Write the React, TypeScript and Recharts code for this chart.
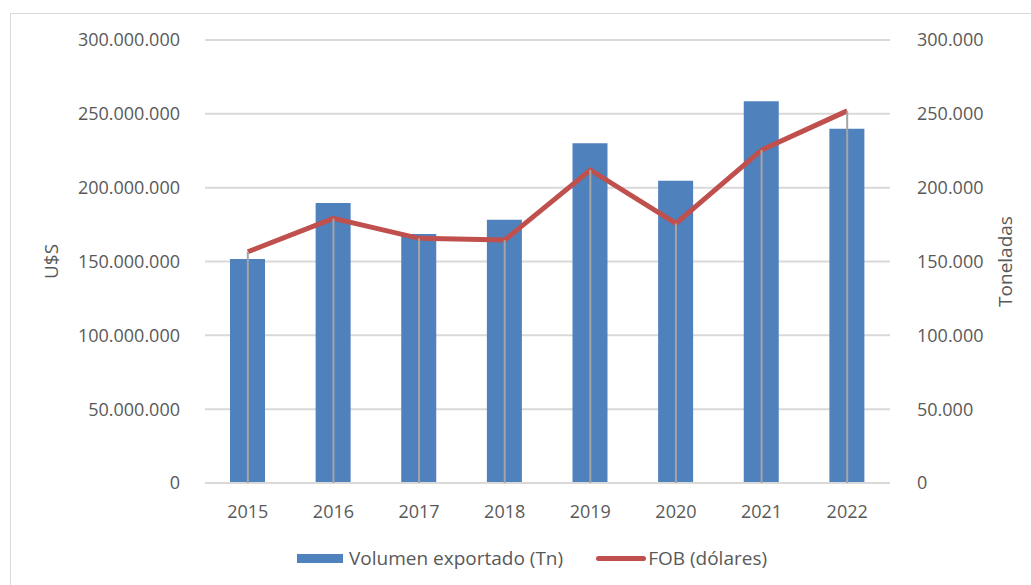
import React from "react";
import {
  ComposedChart,
  Bar,
  Line,
  XAxis,
  YAxis,
  CartesianGrid,
  Legend,
} from "recharts";

// valores
const years = ["2015", "2016", "2017", "2018", "2019", "2020", "2021", "2022"];
const volumenTn = [151700, 189600, 168700, 178300, 230000, 204700, 258600, 239900];
const fobUsd = [
  156600000, 179200000, 165700000, 164500000, 212000000, 175800000, 225500000, 252000000,
];
const leftTicks = [0, 50000000, 100000000, 150000000, 200000000, 250000000, 300000000];
const rightTicks = [0, 50000, 100000, 150000, 200000, 250000, 300000];

const BLUE = "#4f81bd";
const RED = "#c0504d";
const TEXT = "#595959";
const FONT = "'Open Sans', 'Noto Sans', sans-serif";
const PLOT_BOTTOM = 483;

const data = years.map((year, i) => ({
  year,
  volumen: volumenTn[i],
  fob: fobUsd[i],
}));

// separador de miles con punto
const fmt = (v: number) => String(v).replace(/\B(?=(\d{3})+(?!\d))/g, ".");

// línea vertical gris desde el punto hasta el eje
const DropLine = (props: any) => {
  const { cx, cy, index } = props;
  if (cx == null || cy == null) return <g key={`d-${index}`} />;
  return (
    <line
      key={`d-${index}`}
      x1={cx}
      y1={cy}
      x2={cx}
      y2={PLOT_BOTTOM}
      stroke="#a5a5a5"
      strokeWidth={2}
    />
  );
};

const renderLegend = () => (
  <div
    style={{
      display: "flex",
      alignItems: "center",
      fontFamily: FONT,
      fontSize: 19,
      color: TEXT,
      paddingLeft: 297,
    }}
  >
    <span style={{ display: "inline-block", width: 46, height: 9, background: BLUE }} />
    <span style={{ marginLeft: 6 }}>Volumen exportado (Tn)</span>
    <span
      style={{
        display: "inline-block",
        width: 50,
        height: 5,
        borderRadius: 3,
        background: RED,
        marginLeft: 33,
      }}
    />
    <span style={{ marginLeft: 2 }}>FOB (dólares)</span>
  </div>
);

export default function App() {
  const tickStyle = { fill: TEXT, fontSize: 18, fontFamily: FONT };
  return (
    <div style={{ position: "absolute", left: 0, top: 0, width: 1031, height: 585, background: "#fff" }}>
      <div
        style={{
          position: "absolute",
          left: 10,
          top: 13,
          width: 1040,
          height: 600,
          border: "1px solid #d9d9d9",
        }}
      />
      <div style={{ position: "absolute", left: 0, top: 0 }}>
        <ComposedChart
          width={1031}
          height={585}
          data={data}
          margin={{ top: 40, right: 0, left: 0, bottom: 62 }}
        >
          <CartesianGrid vertical={false} stroke="#d9d9d9" strokeWidth={2} yAxisId="left" />
          <XAxis
            dataKey="year"
            height={40}
            axisLine={{ stroke: "#d9d9d9", strokeWidth: 2 }}
            tickLine={false}
            tick={tickStyle}
            tickMargin={16}
          />
          <YAxis
            yAxisId="left"
            orientation="left"
            width={205}
            domain={[0, 300000000]}
            ticks={leftTicks}
            tickFormatter={fmt}
            axisLine={false}
            tickLine={false}
            tick={tickStyle}
            tickMargin={19}
            label={{
              value: "U$S",
              angle: -90,
              position: "center",
              dx: -51,
              style: { fill: TEXT, fontSize: 19, fontFamily: FONT },
            }}
          />
          <YAxis
            yAxisId="right"
            orientation="right"
            width={141}
            domain={[0, 300000]}
            ticks={rightTicks}
            tickFormatter={fmt}
            axisLine={false}
            tickLine={false}
            tick={tickStyle}
            tickMargin={21}
            label={{
              value: "Toneladas",
              angle: -90,
              position: "center",
              dx: 45,
              style: { fill: TEXT, fontSize: 19, fontFamily: FONT },
            }}
          />
          <Bar
            yAxisId="right"
            dataKey="volumen"
            name="Volumen exportado (Tn)"
            fill={BLUE}
            barSize={35}
            isAnimationActive={false}
          />
          <Line
            yAxisId="left"
            dataKey="fob"
            stroke="none"
            legendType="none"
            dot={DropLine}
            activeDot={false}
            isAnimationActive={false}
          />
          <Line
            yAxisId="left"
            dataKey="fob"
            name="FOB (dólares)"
            type="linear"
            stroke={RED}
            strokeWidth={5}
            dot={false}
            activeDot={false}
            isAnimationActive={false}
          />
          <Legend
            verticalAlign="middle"
            align="center"
            content={renderLegend}
            wrapperStyle={{ top: 545, left: 0, width: 1031 }}
          />
        </ComposedChart>
      </div>
    </div>
  );
}
